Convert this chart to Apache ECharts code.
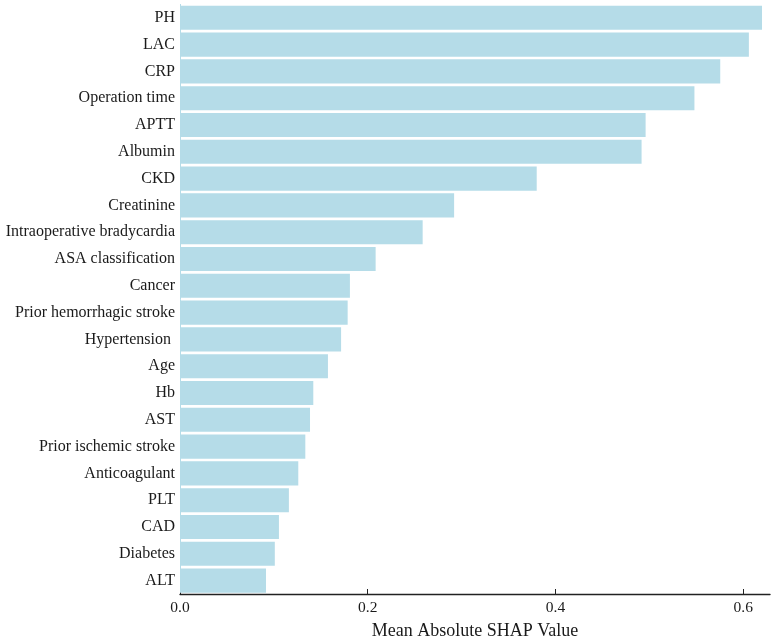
<!DOCTYPE html>
<html lang="en">
<head>
    <meta charset="UTF-8">
    <title>SHAP</title>
    <script type="text/javascript" src="https://cdn.jsdelivr.net/npm/echarts@6/dist/echarts.min.js"></script>
    <style>
        html, body { margin: 0; padding: 0; background: #fff; }
    </style>
</head>
<body>
<div id="main" style="width: 773px;height: 637px"></div>
<script type="text/javascript">
    // features, top to bottom
    var features = ['PH', 'LAC', 'CRP', 'Operation time', 'APTT', 'Albumin', 'CKD', 'Creatinine',
        'Intraoperative bradycardia', 'ASA classification', 'Cancer', 'Prior hemorrhagic stroke',
        'Hypertension ', 'Age', 'Hb', 'AST', 'Prior ischemic stroke', 'Anticoagulant', 'PLT',
        'CAD', 'Diabetes', 'ALT'];
    var shapValues = [0.620, 0.606, 0.5755, 0.548, 0.496, 0.4917, 0.380, 0.292,
        0.2585, 0.2084, 0.181, 0.1786, 0.1716, 0.1576, 0.142, 0.1385, 0.1335, 0.126,
        0.116, 0.1054, 0.101, 0.0916];
    var xTicks = [0, 0.2, 0.4, 0.6];

    var font = "'Liberation Serif', 'Times New Roman', serif";

    var myChart = echarts.init(document.getElementById('main'));
    var option = {
        animation: false,
        grid: {left: 180, right: 3, top: 4.4, bottom: 43, outerBoundsMode: 'none', containLabel: false},
        xAxis: {
            type: 'value',
            min: 0,
            max: 0.6285,
            name: 'Mean Absolute SHAP Value',
            nameLocation: 'middle',
            nameGap: 28,
            nameTextStyle: {fontFamily: font, fontSize: 18, color: '#1a1a1a'},
            axisLine: {show: true, onZero: false, lineStyle: {color: '#222', width: 1.4}},
            axisTick: {show: true, inside: true, length: 5, customValues: xTicks, lineStyle: {color: '#222'}},
            axisLabel: {
                fontFamily: font, fontSize: 15.5, color: '#1a1a1a', margin: 6,
                customValues: xTicks,
                formatter: function (v) { return v.toFixed(1); }
            },
            splitLine: {show: false}
        },
        yAxis: {
            type: 'category',
            data: features,
            inverse: true,
            axisLine: {show: true, lineStyle: {color: '#b5dce8', width: 1}},
            axisTick: {show: false},
            axisLabel: {fontFamily: font, fontSize: 16, color: '#1a1a1a', margin: 5}
        },
        series: [
            {
                type: 'bar',
                data: shapValues,
                barCategoryGap: '10%',
                itemStyle: {color: '#b5dce8'}
            }
        ]
    };
    myChart.setOption(option);
</script>
</body>
</html>
